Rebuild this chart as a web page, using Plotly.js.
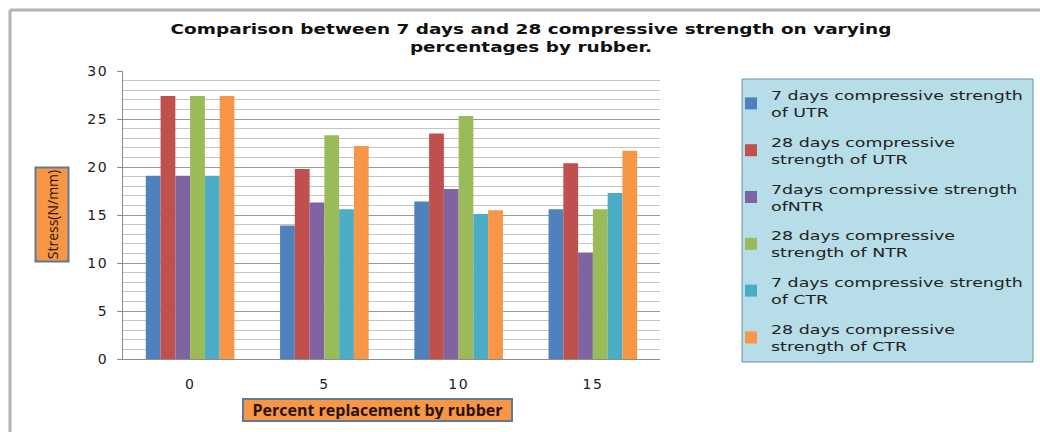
<!DOCTYPE html>
<html>
<head>
<meta charset="utf-8">
<script src="https://cdn.plot.ly/plotly-3.0.1.min.js"></script>
<style>
html,body{margin:0;padding:0;background:#fff;}
#chart{width:1040px;height:432px;}
#chart .gtitle{transform:scaleX(1.32);transform-box:fill-box;transform-origin:center center;}
#chart .legendtext{transform:scaleX(1.34);transform-box:fill-box;transform-origin:left center;}
#chart g.legend g.scrollbox{clip-path:none !important;}
#chart .xtick text, #chart .ytick text{letter-spacing:1.5px;}
</style>
</head>
<body>
<div id="chart"></div>
<script>
// Data
const categories = ['0', '5', '10', '15'];
const seriesNames = [
  '7 days compressive strength<br>of UTR',
  '28 days compressive<br>strength of UTR',
  '7days compressive strength<br>ofNTR',
  '28 days compressive<br>strength of NTR',
  '7 days compressive strength<br>of CTR',
  '28 days compressive<br>strength of CTR'
];
const utr7  = [19.1, 13.9, 16.4, 15.6];
const utr28 = [27.4, 19.8, 23.5, 20.4];
const ntr7  = [19.1, 16.3, 17.7, 11.1];
const ntr28 = [27.4, 23.3, 25.3, 15.6];
const ctr7  = [19.1, 15.6, 15.1, 17.3];
const ctr28 = [27.4, 22.2, 15.5, 21.7];
const seriesValues = [utr7, utr28, ntr7, ntr28, ctr7, ctr28];
const colors = ['#4F81BD', '#C0504D', '#8064A2', '#9BBB59', '#4BACC6', '#F79646'];

const traces = seriesValues.map((vals, i) => ({
  type: 'bar',
  x: categories,
  y: vals,
  name: seriesNames[i],
  legendgroup: 'g' + i,
  marker: {color: colors[i], line: {width: 0}},
  hoverinfo: 'skip'
}));

// pixel -> paper helpers (plot area 123..660 x, 71..359 y)
const L = 123, R = 660, T = 71, B = 359;
const px = v => (v - L) / (R - L);
const py = v => (B - v) / (B - T);

const layout = {
  width: 1040, height: 432,
  margin: {l: L, r: 1040 - R, t: T, b: 432 - B},
  paper_bgcolor: '#ffffff',
  plot_bgcolor: '#ffffff',
  barmode: 'group',
  bargap: 0.34,
  bargroupgap: 0,
  showlegend: true,
  title: {
    text: 'Comparison between 7 days and 28 compressive strength on varying<br>percentages by rubber.',
    font: {family: 'DejaVu Sans', size: 14, color: '#111', weight: 'bold'},
    x: 531 / 1040, xanchor: 'center',
    y: 1 - 34 / 432, yanchor: 'top'
  },
  font: {family: 'DejaVu Sans', color: '#222'},
  xaxis: {
    type: 'category',
    showline: true, linecolor: '#8c8c8c', linewidth: 1,
    ticks: '', ticklabelstandoff: 12,
    tickfont: {family: 'DejaVu Sans', size: 14, color: '#222'},
    showgrid: false, zeroline: false, fixedrange: true
  },
  yaxis: {
    range: [0, 30], dtick: 5, tick0: 0,
    showline: true, linecolor: '#8c8c8c', linewidth: 1,
    ticks: 'outside', ticklen: 5, tickcolor: '#8c8c8c',
    ticklabelstandoff: 6,
    tickfont: {family: 'DejaVu Sans', size: 14, color: '#222'},
    showgrid: true, gridcolor: '#9a9a9a', gridwidth: 1,
    minor: {dtick: 1, showgrid: true, gridcolor: '#c4c4c4', gridwidth: 1},
    zeroline: false, fixedrange: true
  },
  legend: {
    x: px(731), y: py(80), xanchor: 'left', yanchor: 'top',
    bgcolor: 'rgba(0,0,0,0)', borderwidth: 0,
    font: {family: 'DejaVu Sans', size: 13, color: '#222'},
    traceorder: 'grouped', tracegroupgap: 10,
    itemwidth: 30
  },
  shapes: [
    // outer frame (left and top)
    {type: 'line', xref: 'paper', yref: 'paper', x0: px(10), x1: px(10), y0: py(10), y1: py(432), line: {color: '#b4b4b4', width: 3}},
    {type: 'line', xref: 'paper', yref: 'paper', x0: px(10), x1: px(1040), y0: py(10), y1: py(10), line: {color: '#b4b4b4', width: 3}},
    // legend box
    {type: 'rect', xref: 'paper', yref: 'paper', x0: px(742), x1: px(1033), y0: py(79), y1: py(362), fillcolor: '#B7DDE8', line: {color: '#6a8fa0', width: 1}, layer: 'below'}
  ],
  annotations: [
    {xref: 'paper', yref: 'paper', x: px(51.5), y: py(215), text: 'Stress(N/mm)', textangle: -90, showarrow: false,
     font: {family: 'Open Sans', size: 14, color: '#2a1200'}, bgcolor: '#F79646', bordercolor: '#5f7a95', borderwidth: 2, borderpad: 1,
     width: 90, height: 29, xanchor: 'center', yanchor: 'middle'},
    {xref: 'paper', yref: 'paper', x: px(377.5), y: py(410), text: '<b>Percent replacement by rubber</b>', showarrow: false,
     font: {family: 'Open Sans', size: 16, color: '#2a1200'}, bgcolor: '#F79646', bordercolor: '#5f7a95', borderwidth: 2, borderpad: 1,
     width: 265, height: 18, xanchor: 'center', yanchor: 'middle'}
  ]
};

Plotly.newPlot('chart', traces, layout, {staticPlot: true, displayModeBar: false});
</script>
</body>
</html>
